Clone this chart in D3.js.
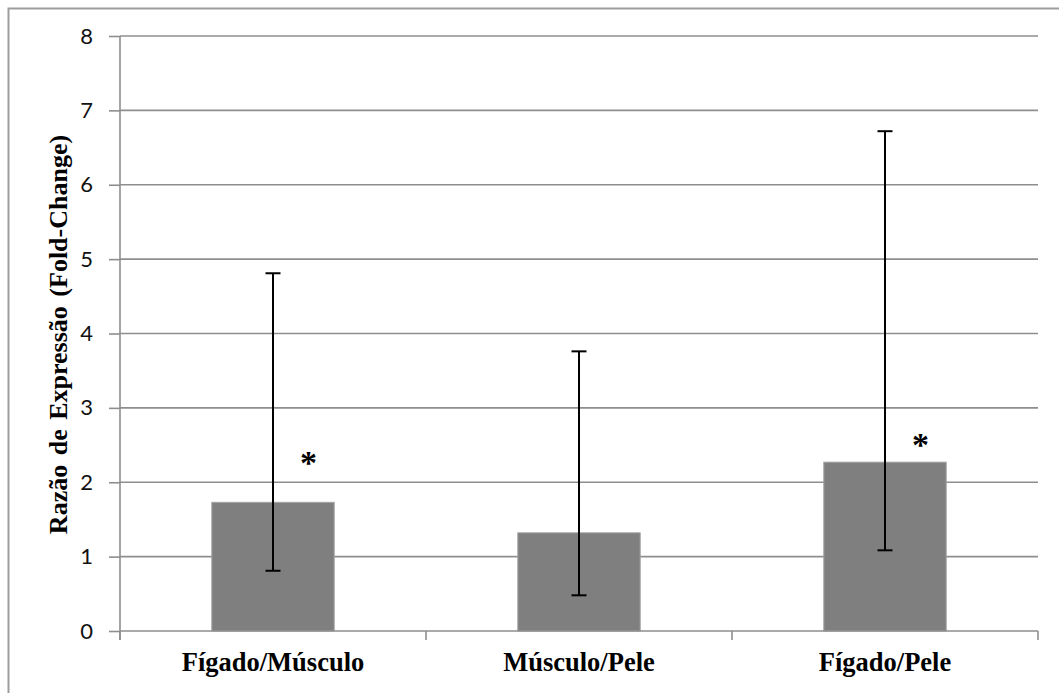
<!DOCTYPE html>
<html>
<head>
<meta charset="utf-8">
<script src="https://cdn.jsdelivr.net/npm/d3@7"></script>
<style>
  html, body { margin: 0; padding: 0; background: #fff; }
  svg { display: block; }
</style>
</head>
<body>
<div id="chart"></div>
<script>
// Expression ratio (fold-change) per tissue pair
const categories = ["Fígado/Músculo", "Músculo/Pele", "Fígado/Pele"];
const foldChange = [1.73, 1.32, 2.27];
const errorLow = [0.81, 0.48, 1.085];
const errorHigh = [4.81, 3.76, 6.72];
// Significance markers: category and the level they sit at
const sigCategories = ["Fígado/Músculo", "Fígado/Pele"];
const sigLevels = [2.39, 2.63];
const yTicks = [0, 1, 2, 3, 4, 5, 6, 7, 8];
const yTitle = "Razão de Expressão (Fold-Change)";

const W = 1059, H = 693;
const margin = { left: 120, right: 21, top: 36, bottom: 62 };

const svg = d3.select("#chart").append("svg")
  .attr("width", W).attr("height", H);

// chart area frame
svg.append("rect")
  .attr("x", 8.5).attr("y", 8.5)
  .attr("width", W + 20).attr("height", H + 20)
  .attr("fill", "none").attr("stroke", "#9d9d9d").attr("stroke-width", 2);

const x = d3.scaleBand()
  .domain(categories)
  .range([margin.left, W - margin.right])
  .paddingInner(0.6).paddingOuter(0.3);

const y = d3.scaleLinear()
  .domain([0, 8])
  .range([H - margin.bottom, margin.top]);

const x0 = margin.left, x1 = W - margin.right;

// horizontal gridlines
svg.append("g").selectAll("line")
  .data(yTicks.filter(d => d > 0))
  .join("line")
  .attr("x1", x0).attr("x2", x1)
  .attr("y1", d => y(d)).attr("y2", d => y(d))
  .attr("stroke", "#8e8e8e").attr("stroke-width", 1.6);

// y axis
const yAxis = svg.append("g")
  .attr("transform", `translate(${x0},0)`)
  .call(d3.axisLeft(y).tickValues(yTicks).tickSize(11).tickPadding(16).tickFormat(d3.format("d")));
yAxis.select(".domain").remove();
yAxis.selectAll(".tick line").attr("stroke", "#8e8e8e").attr("stroke-width", 1.6);
yAxis.selectAll(".tick text")
  .attr("font-family", "Lato, 'Open Sans', sans-serif")
  .attr("font-size", 22).attr("fill", "#111");
svg.append("line")
  .attr("x1", x0).attr("x2", x0)
  .attr("y1", y(8)).attr("y2", y(0) + 9)
  .attr("stroke", "#8e8e8e").attr("stroke-width", 1.6);

// bars
svg.append("g").selectAll("rect")
  .data(categories)
  .join("rect")
  .attr("x", d => x(d))
  .attr("width", x.bandwidth())
  .attr("y", (d, i) => y(foldChange[i]))
  .attr("height", (d, i) => y(0) - y(foldChange[i]))
  .attr("fill", "#7f7f7f")
  .attr("stroke", "#a3a3a3").attr("stroke-width", 1);

// x axis baseline and category separators
const sepXs = d3.range(categories.length + 1).map(i => x0 + i * (x1 - x0) / categories.length);
svg.append("line")
  .attr("x1", x0).attr("x2", x1)
  .attr("y1", y(0)).attr("y2", y(0))
  .attr("stroke", "#8e8e8e").attr("stroke-width", 1.6);
svg.append("g").selectAll("line")
  .data(sepXs)
  .join("line")
  .attr("x1", d => d).attr("x2", d => d)
  .attr("y1", y(0)).attr("y2", y(0) + 9)
  .attr("stroke", "#8e8e8e").attr("stroke-width", 1.6);

// error bars
const eb = svg.append("g").attr("stroke", "#000").attr("stroke-width", 2);
const cx = d => x(d) + x.bandwidth() / 2;
categories.forEach((c, i) => {
  eb.append("line")
    .attr("x1", cx(c)).attr("x2", cx(c))
    .attr("y1", y(errorLow[i])).attr("y2", y(errorHigh[i]));
  [errorLow[i], errorHigh[i]].forEach(v => {
    eb.append("line")
      .attr("x1", cx(c) - 7.5).attr("x2", cx(c) + 7.5)
      .attr("y1", y(v)).attr("y2", y(v));
  });
});

// significance asterisks
svg.append("g").selectAll("text")
  .data(sigCategories)
  .join("text")
  .attr("x", d => cx(d) + x.bandwidth() * 0.29)
  .attr("y", (d, i) => y(sigLevels[i]))
  .attr("dy", "0.62em")
  .attr("text-anchor", "middle")
  .attr("font-family", "'Liberation Serif', 'Times New Roman', serif")
  .attr("font-weight", "bold")
  .attr("font-size", 34)
  .attr("fill", "#000")
  .text("*");

// category labels
svg.append("g").selectAll("text")
  .data(categories)
  .join("text")
  .attr("x", d => cx(d))
  .attr("y", 671)
  .attr("text-anchor", "middle")
  .attr("font-family", "'Liberation Serif', 'Times New Roman', serif")
  .attr("font-weight", "bold")
  .attr("font-size", 26.5)
  .attr("fill", "#000")
  .text(d => d);

// y axis title
svg.append("text")
  .attr("transform", `translate(67,${(y(0) + y(8)) / 2 + 1}) rotate(-90)`)
  .attr("text-anchor", "middle")
  .attr("font-family", "'Liberation Serif', 'Times New Roman', serif")
  .attr("font-weight", "bold")
  .attr("font-size", 26)
  .attr("word-spacing", 3)
  .attr("fill", "#000")
  .text(yTitle);
</script>
</body>
</html>
